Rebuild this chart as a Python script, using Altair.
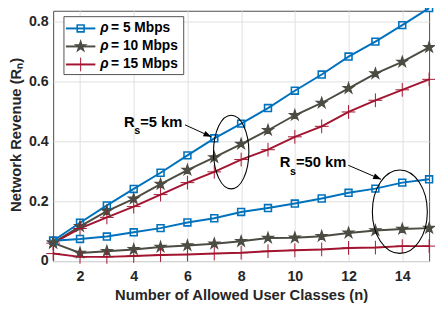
import math
import altair as alt
import pandas as pd

# ---------------- data ----------------
n_values = list(range(1, 16))
rho_labels = ["5 Mbps", "10 Mbps", "15 Mbps"]
radius_labels = ["5 km", "50 km"]

rev_5km_rho5 = [0.068, 0.128, 0.186, 0.241, 0.295, 0.353, 0.410, 0.459, 0.511, 0.569, 0.623, 0.683, 0.733, 0.788, 0.845]
rev_5km_rho10 = [0.061, 0.116, 0.167, 0.208, 0.257, 0.304, 0.346, 0.391, 0.437, 0.487, 0.528, 0.577, 0.626, 0.665, 0.714]
rev_5km_rho15 = [0.060, 0.109, 0.146, 0.182, 0.222, 0.262, 0.298, 0.339, 0.372, 0.415, 0.450, 0.498, 0.537, 0.572, 0.607]
rev_50km_rho5 = [0.068, 0.074, 0.082, 0.096, 0.110, 0.129, 0.143, 0.164, 0.177, 0.192, 0.209, 0.228, 0.242, 0.262, 0.273]
rev_50km_rho10 = [0.061, 0.027, 0.033, 0.039, 0.047, 0.052, 0.058, 0.066, 0.077, 0.078, 0.083, 0.094, 0.102, 0.107, 0.110]
rev_50km_rho15 = [0.025, 0.014, 0.014, 0.017, 0.020, 0.022, 0.025, 0.028, 0.033, 0.036, 0.039, 0.044, 0.045, 0.050, 0.050]

x_ticks = [2, 4, 6, 8, 10, 12, 14]
y_ticks = [0, 0.2, 0.4, 0.6, 0.8]

# annotations (data coordinates)
ann_labels = ["=5 km", "=50 km"]
ann_text_n = [3.64, 9.44]
ann_text_rev = [0.448, 0.313]
arrow_start_n = [5.91, 11.99]
arrow_start_rev = [0.455, 0.320]
arrow_end_n = [6.89, 13.21]
arrow_end_rev = [0.415, 0.273]
ellipse_n = [7.63, 13.91]
ellipse_rev = [0.364, 0.165]

# ---------------- style ----------------
W, H = 383, 255
X_DOMAIN = [1, 15]
Y_DOMAIN = [0, 0.836]
colors = ["#0072BD", "#4C4C43", "#A2142F"]
FONT = "Liberation Sans"
ellipse_w = [36, 56]
ellipse_h = [75, 85]

STAR = ("M0,-1L0.2245,-0.309L0.951,-0.309L0.363,0.118L0.588,0.809L0,0.382"
        "L-0.588,0.809L-0.363,0.118L-0.951,-0.309L-0.2245,-0.309Z")
PLUS = "M-1,0H1M0,-1V1"
ARROW = "M0,0L-2,-0.75L-2,0.75Z"

records = []
for radius, series in zip(radius_labels, [
        [rev_5km_rho5, rev_5km_rho10, rev_5km_rho15],
        [rev_50km_rho5, rev_50km_rho10, rev_50km_rho15]]):
    for rho, vals in zip(rho_labels, series):
        for n, v in zip(n_values, vals):
            records.append({"n": n, "revenue": v, "rho": rho, "radius": radius})
df = pd.DataFrame(records)

color_scale = alt.Scale(domain=rho_labels, range=colors)
shape_scale = alt.Scale(domain=rho_labels, range=["square", STAR, PLUS])
fill_scale = alt.Scale(domain=rho_labels, range=["transparent", colors[1], "transparent"])
size_scale = alt.Scale(domain=rho_labels, range=[49, 196, 100])
sw_scale = alt.Scale(domain=rho_labels, range=[1.6, 1.0, 1.8])

X = alt.X("n:Q", scale=alt.Scale(domain=X_DOMAIN, nice=False, zero=False),
          axis=alt.Axis(values=x_ticks, title="Number of Allowed User Classes (n)",
                        labelBaseline="alphabetic", labelPadding=20,
                        titleBaseline="alphabetic", titleY=39))
Y = alt.Y("revenue:Q", scale=alt.Scale(domain=Y_DOMAIN, nice=False),
          axis=alt.Axis(values=y_ticks, format=".1~f", title="Network Revenue (Rₙ)",
                        labelPadding=5, titleAngle=270, titleBaseline="alphabetic",
                        titleAlign="center", titleX=-33, titleY=126))

lines = alt.Chart(df).mark_line(strokeWidth=2).encode(
    x=X, y=Y,
    color=alt.Color("rho:N", scale=color_scale, legend=None),
    detail="radius:N", order="n:Q")

points = alt.Chart(df).mark_point(opacity=1).encode(
    x=X, y=Y,
    stroke=alt.Stroke("rho:N", scale=color_scale, legend=None),
    fill=alt.Fill("rho:N", scale=fill_scale, legend=None),
    shape=alt.Shape("rho:N", scale=shape_scale, legend=None),
    size=alt.Size("rho:N", scale=size_scale, legend=None),
    strokeWidth=alt.StrokeWidth("rho:N", scale=sw_scale, legend=None))

kx = W / (X_DOMAIN[1] - X_DOMAIN[0])
ky = H / (Y_DOMAIN[1] - Y_DOMAIN[0])

ann_layers = []
for i in range(2):
    w, h = ellipse_w[i], ellipse_h[i]
    rx = w / h
    path = f"M{-rx:.3f},0A{rx:.3f},1 0 1,0 {rx:.3f},0A{rx:.3f},1 0 1,0 {-rx:.3f},0Z"
    e_df = pd.DataFrame({"n": [ellipse_n[i]], "revenue": [ellipse_rev[i]]})
    ann_layers.append(alt.Chart(e_df).mark_point(
        shape=path, size=h * h, filled=False, color="black", strokeWidth=1.1, opacity=1
    ).encode(x=X, y=Y))

    a_df = pd.DataFrame({"n": [arrow_start_n[i]], "revenue": [arrow_start_rev[i]],
                         "n2": [arrow_end_n[i]], "revenue2": [arrow_end_rev[i]]})
    ann_layers.append(alt.Chart(a_df).mark_rule(color="black", strokeWidth=1).encode(
        x=X, y=Y, x2="n2:Q", y2="revenue2:Q"))
    ang = math.degrees(math.atan2((arrow_start_rev[i] - arrow_end_rev[i]) * ky,
                                  (arrow_end_n[i] - arrow_start_n[i]) * kx))
    h_df = pd.DataFrame({"n": [arrow_end_n[i]], "revenue": [arrow_end_rev[i]]})
    ann_layers.append(alt.Chart(h_df).mark_point(
        shape=ARROW, size=64, filled=True, color="black", opacity=1, strokeWidth=0,
        angle=ang % 360).encode(x=X, y=Y))

t_df = pd.DataFrame({"n": ann_text_n, "revenue": ann_text_rev, "label": ann_labels})
txt_common = dict(align="left", baseline="alphabetic", fontWeight="bold", color="black", font=FONT)
t_r = alt.Chart(t_df).mark_text(fontSize=15, **txt_common).encode(x=X, y=Y, text=alt.value("R"))
t_s = alt.Chart(t_df).mark_text(fontSize=11, dx=10.5, dy=7.5, **txt_common).encode(x=X, y=Y, text=alt.value("s"))
t_l = alt.Chart(t_df).mark_text(fontSize=15, dx=16.5, **txt_common).encode(x=X, y=Y, text="label:N")

main = alt.layer(lines, points, *ann_layers, t_r, t_s, t_l)

# ---------------- legend ----------------
leg_df = pd.DataFrame({"rho": rho_labels, "row": [0, 1, 2],
                       "rest": ["= " + r for r in rho_labels]})
LY = alt.Y("row:Q", scale=alt.Scale(domain=[0, 2], range=[18, 54.7]), axis=None)
box = alt.Chart(pd.DataFrame({"a": [0]})).mark_rect(
    fill="white", stroke="#262626", strokeWidth=0.8).encode(
    x=alt.value(11), x2=alt.value(133), y=alt.value(6), y2=alt.value(65))
leg_lines = alt.Chart(leg_df).mark_rule(strokeWidth=2).encode(
    x=alt.value(13), x2=alt.value(43), y=LY,
    color=alt.Color("rho:N", scale=color_scale, legend=None))
leg_points = alt.Chart(leg_df).mark_point(opacity=1).encode(
    x=alt.value(28), y=LY,
    stroke=alt.Stroke("rho:N", scale=color_scale, legend=None),
    fill=alt.Fill("rho:N", scale=fill_scale, legend=None),
    shape=alt.Shape("rho:N", scale=shape_scale, legend=None),
    size=alt.Size("rho:N", scale=size_scale, legend=None),
    strokeWidth=alt.StrokeWidth("rho:N", scale=sw_scale, legend=None))
leg_rho = alt.Chart(leg_df).mark_text(
    align="left", baseline="middle", fontSize=14, fontWeight="bold", fontStyle="italic",
    color="black", font=FONT).encode(x=alt.value(48), y=LY, text=alt.value("ρ"))
leg_rest = alt.Chart(leg_df).mark_text(
    align="left", baseline="middle", fontSize=14, fontWeight="bold",
    color="black", font=FONT).encode(x=alt.value(59), y=LY, text="rest:N")

legend = alt.layer(box, leg_lines, leg_points, leg_rho, leg_rest)

chart = alt.layer(main, legend).resolve_scale(y="independent").properties(
    width=W, height=H,
    padding={"left": 46, "top": 0, "right": 6, "bottom": 46},
    autosize=alt.AutoSizeParams(type="none"),
).configure(font=FONT).configure_view(
    stroke="#4a4a4a", strokeWidth=1
).configure_axis(
    labelFont=FONT, labelFontSize=14.5, labelFontWeight="bold", labelColor="#262626",
    titleFont=FONT, titleFontSize=15, titleFontWeight="bold", titleColor="#262626",
    gridColor="#dfdfdf", gridWidth=1, ticks=False, tickSize=0, domain=False,
    labelFlush=False, labelOverlap=False,
)

chart.save("out.html", embed_options={"renderer": "svg", "actions": False})
